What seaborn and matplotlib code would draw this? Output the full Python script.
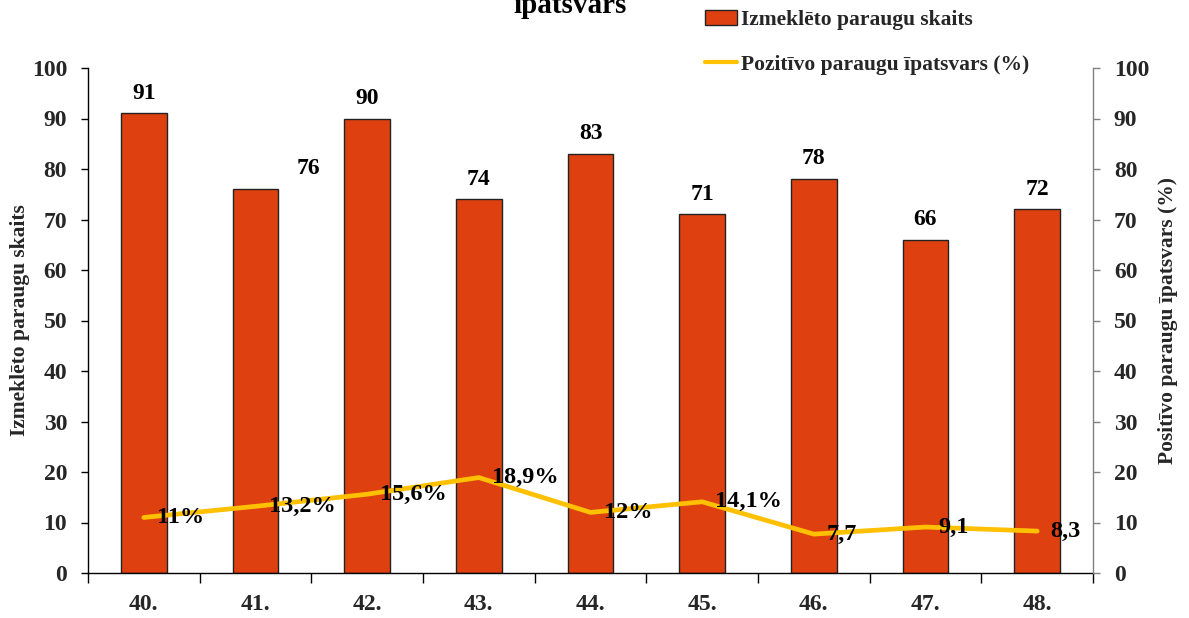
import numpy as np
import pandas as pd
import matplotlib
matplotlib.use("Agg")
import matplotlib.pyplot as plt
import seaborn as sns
from matplotlib.patches import Patch
from matplotlib.lines import Line2D
from matplotlib.ticker import MultipleLocator, FixedLocator

weeks = ["40.", "41.", "42.", "43.", "44.", "45.", "46.", "47.", "48."]
samples = [91, 76, 90, 74, 83, 71, 78, 66, 72]
positive_pct = [11, 13.2, 15.6, 18.9, 12, 14.1, 7.7, 9.1, 8.3]
pct_labels = ["11%", "13,2%", "15,6%", "18,9%", "12%", "14,1%", "7,7", "9,1", "8,3"]
bar_label = "Izmeklēto paraugu skaits"
line_label = "Pozitīvo paraugu īpatsvars (%)"
left_ylabel = "Izmeklēto paraugu skaits"
right_ylabel = "Positīvo paraugu īpatsvars (%)"
title_text = "īpatsvars"

sns.set_theme(style="white")
plt.rcParams["font.family"] = ["Liberation Serif", "DejaVu Serif"]
plt.rcParams["font.weight"] = "bold"

BAR_COLOR = "#DE4010"
LINE_COLOR = "#FFC000"
FS = 15.5
TICK_FS = 17

df = pd.DataFrame({"week": weeks, "samples": samples, "pct": positive_pct})

fig = plt.figure(figsize=(11.89, 6.18), dpi=100)
ax = fig.add_axes([88/1189, 1-573/618, (1093-88)/1189, (573-68)/618])

sns.barplot(data=df, x="week", y="samples", ax=ax, color=BAR_COLOR,
            width=0.41, edgecolor="#222222", linewidth=1.0, saturation=1)
ax.set_xlim(-0.5, len(weeks) - 0.5)
ax.set_ylim(0, 100)
ax.yaxis.set_major_locator(MultipleLocator(10))

ax2 = ax.twinx()
sns.lineplot(x=np.arange(len(weeks)), y=df["pct"].values, ax=ax2,
             color=LINE_COLOR, linewidth=3.4, solid_capstyle="round")
ax2.set_ylim(0, 100)
ax2.set_xlim(-0.5, len(weeks) - 0.5)
ax2.yaxis.set_major_locator(MultipleLocator(10))

# spines
ax.spines["top"].set_visible(False)
ax2.spines["top"].set_visible(False)
ax.spines["right"].set_visible(False)
ax2.spines["left"].set_visible(False)
ax2.spines["bottom"].set_visible(False)
ax.spines["left"].set_color("black")
ax.spines["bottom"].set_color("black")
ax.spines["left"].set_linewidth(1.0)
ax.spines["bottom"].set_linewidth(1.0)
ax2.spines["right"].set_color("#808080")
ax2.spines["right"].set_linewidth(1.0)

# ticks
ax.tick_params(axis="y", which="major", left=True, length=5, width=1, color="black",
               labelsize=TICK_FS, pad=10)
ax.set_xticks(np.arange(len(weeks)))
ax.set_xticklabels(weeks)
ax.tick_params(axis="x", which="major", bottom=False, length=0, labelsize=TICK_FS, pad=15)
ax.xaxis.set_minor_locator(FixedLocator(np.arange(-0.5, len(weeks), 1.0)))
ax.tick_params(axis="x", which="minor", bottom=True, length=7, width=1, color="black",
               direction="out")
ax2.tick_params(axis="y", which="major", right=True, length=5, width=1, color="#808080",
                labelsize=TICK_FS, pad=10)
for lab in ax.get_xticklabels() + ax.get_yticklabels() + ax2.get_yticklabels():
    lab.set_fontweight("bold")

ax.set_xlabel("")
ax.set_ylabel(left_ylabel, fontsize=FS, fontweight="bold")
ax.yaxis.set_label_coords(-(88-20)/1005, 0.5)
ax.yaxis.label.set_verticalalignment("center")
ax2.set_ylabel(right_ylabel, fontsize=FS, fontweight="bold", rotation=90)
ax2.yaxis.set_label_coords(1 + (1168-1093)/1005, 0.5)
ax2.yaxis.label.set_verticalalignment("center")

# bar labels
for i, v in enumerate(samples):
    dx = 0.0
    if i == 1:
        dx = 51 * 0.75
    ax.annotate(str(v), (i, v), xytext=(dx, 7), textcoords="offset points",
                ha="center", va="bottom", fontsize=17, fontweight="bold", color="black")

# line labels
for i, (v, t) in enumerate(zip(positive_pct, pct_labels)):
    ax2.annotate(t, (i, v), xytext=(9.5, 0), textcoords="offset points",
                 ha="left", va="center", fontsize=17.5, fontweight="bold", color="black")

# title (cut at top, as in the reference)
fig.text(570/1189, 1-13/618, title_text, ha="center", va="baseline",
         fontsize=21, fontweight="bold", color="black")

handles = [Patch(facecolor=BAR_COLOR, edgecolor="#222222", linewidth=1.0),
           Line2D([0], [0], color=LINE_COLOR, linewidth=3.0)]
leg = fig.legend(handles, [bar_label, line_label], loc="upper left",
                 bbox_to_anchor=(705/1189, 1-10/618), frameon=False,
                 borderpad=0, borderaxespad=0, handlelength=1.5, handleheight=0.7,
                 handletextpad=0.15, labelspacing=1.15,
                 prop={"size": FS, "weight": "bold"})

fig.savefig("out.png", dpi=100, facecolor="white")
